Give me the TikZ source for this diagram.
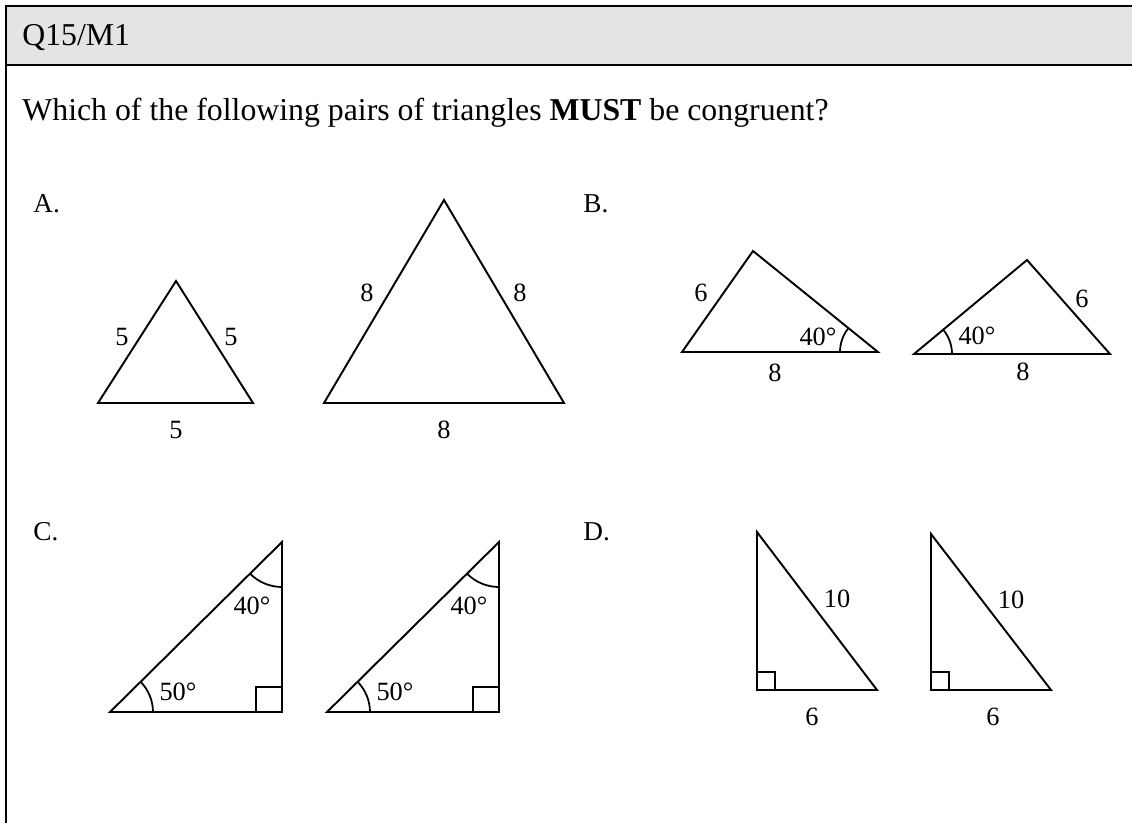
\documentclass[tikz,border=0pt]{standalone}
\usepackage{fontspec}
\setmainfont{Liberation Serif}
\usetikzlibrary{angles}
\definecolor{headgrey}{RGB}{228,228,228}

\begin{document}
\begin{tikzpicture}[
    x=0.02cm, y=-0.02cm,
    frame/.style={line width=1.4pt, black},
    tri/.style={line width=1.1pt, line join=miter},
    arcmark/.style={draw, line width=1pt, angle radius=0.76cm},
    sqmark/.style={line width=1pt},
    lbl/.style={font=\fontsize{15}{18}\selectfont, inner sep=0pt},
    head/.style={font=\fontsize{18.1}{21}\selectfont, anchor=base west, inner sep=0pt},
    part/.style={font=\fontsize{15.5}{19}\selectfont, anchor=base west, inner sep=0pt}
  ]
    \useasboundingbox (0,0) rectangle (1132,823);

    % frame and header band
    \fill[headgrey] (6,6) rectangle (1132,65);
    \draw[frame] (1132,6) -- (6,6) -- (6,823);
    \draw[frame] (6,65) -- (1132,65);

    \node[head] (title) at (22,45) {Q15/M1};
    \node[head] (question) at (22,120) {Which of the following pairs of triangles \textbf{MUST} be congruent?};

    \node[part] (partA) at (33,212) {A.};
    \node[part] (partB) at (583,212) {B.};
    \node[part] (partC) at (33,540) {C.};
    \node[part] (partD) at (583,540) {D.};

    % A
    \coordinate (a1l) at (98,403);
    \coordinate (a1r) at (253,403);
    \coordinate (a1t) at (176,281);
    \draw[tri] (a1l) -- (a1r) -- (a1t) -- cycle;
    \node[lbl] (a1s1) at (122,337) {5};
    \node[lbl] (a1s2) at (231,337) {5};
    \node[lbl] (a1s3) at (176,430) {5};

    \coordinate (a2l) at (324,403);
    \coordinate (a2r) at (564,403);
    \coordinate (a2t) at (444,200);
    \draw[tri] (a2l) -- (a2r) -- (a2t) -- cycle;
    \node[lbl] (a2s1) at (367,293) {8};
    \node[lbl] (a2s2) at (520,293) {8};
    \node[lbl] (a2s3) at (444,430) {8};

    % B
    \coordinate (b1l) at (682,352);
    \coordinate (b1r) at (878,352);
    \coordinate (b1t) at (753,251);
    \draw[tri] (b1l) -- (b1r) -- (b1t) -- cycle;
    \pic[arcmark] {angle=b1t--b1r--b1l};
    \node[lbl] (b1s1) at (701,293) {6};
    \node[lbl] (b1s2) at (775,373) {8};
    \node[lbl] (b1ang) at (818,337) {40°};

    \coordinate (b2l) at (914,354);
    \coordinate (b2r) at (1110,354);
    \coordinate (b2t) at (1027,260);
    \draw[tri] (b2l) -- (b2r) -- (b2t) -- cycle;
    \pic[arcmark] {angle=b2r--b2l--b2t};
    \node[lbl] (b2s1) at (1082,299) {6};
    \node[lbl] (b2s2) at (1023,372) {8};
    \node[lbl] (b2ang) at (977,336) {40°};

    % C
    \coordinate (c1l) at (110,712);
    \coordinate (c1r) at (282,712);
    \coordinate (c1t) at (282,542);
    \draw[tri] (c1l) -- (c1r) -- (c1t) -- cycle;
    \pic[arcmark, angle radius=0.86cm] {angle=c1r--c1l--c1t};
    \pic[arcmark, angle radius=0.9cm] {angle=c1l--c1t--c1r};
    \draw[sqmark] (c1r) ++(-26,0) -- ++(0,-25) -- ++(26,0);
    \node[lbl] (c1ang1) at (252,606) {40°};
    \node[lbl] (c1ang2) at (178,692) {50°};

    \coordinate (c2l) at (327,712);
    \coordinate (c2r) at (499,712);
    \coordinate (c2t) at (499,542);
    \draw[tri] (c2l) -- (c2r) -- (c2t) -- cycle;
    \pic[arcmark, angle radius=0.86cm] {angle=c2r--c2l--c2t};
    \pic[arcmark, angle radius=0.9cm] {angle=c2l--c2t--c2r};
    \draw[sqmark] (c2r) ++(-26,0) -- ++(0,-25) -- ++(26,0);
    \node[lbl] (c2ang1) at (469,606) {40°};
    \node[lbl] (c2ang2) at (395,692) {50°};

    % D
    \coordinate (d1t) at (757,532);
    \coordinate (d1l) at (757,690);
    \coordinate (d1r) at (877,690);
    \draw[tri] (d1l) -- (d1r) -- (d1t) -- cycle;
    \draw[sqmark] (d1l) ++(18,0) -- ++(0,-18) -- ++(-18,0);
    \node[lbl] (d1s1) at (837,599) {10};
    \node[lbl] (d1s2) at (812,717) {6};

    \coordinate (d2t) at (931,534);
    \coordinate (d2l) at (931,690);
    \coordinate (d2r) at (1051,690);
    \draw[tri] (d2l) -- (d2r) -- (d2t) -- cycle;
    \draw[sqmark] (d2l) ++(18,0) -- ++(0,-18) -- ++(-18,0);
    \node[lbl] (d2s1) at (1011,600) {10};
    \node[lbl] (d2s2) at (993,717) {6};
  \end{tikzpicture}
\end{document}
